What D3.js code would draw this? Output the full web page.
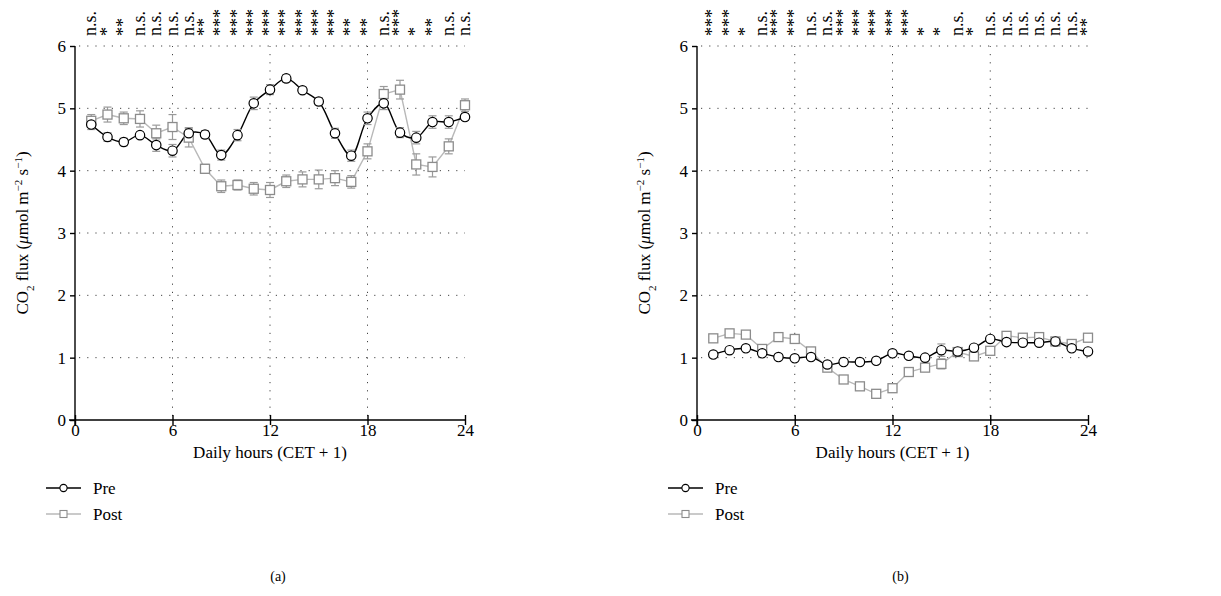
<!DOCTYPE html>
<html lang="en">
<head>
<meta charset="utf-8">
<title>CO2 flux pre / post</title>
<style>
body { margin: 0; background: #fff; }
svg text { font-family: "Liberation Serif", "DejaVu Serif", serif; fill: #000; }
.grid line { stroke: #444; stroke-width: 1; stroke-dasharray: 1.2 7; }
.axis path, .axis line { stroke: #000; stroke-width: 1.4; }
</style>
<script src="https://d3js.org/d3.v7.min.js"></script>
</head>
<body>
<div id="chart"></div>
<script>
// data
const hours = d3.range(1, 25);
const xTicks = [0, 6, 12, 18, 24];
const yTicks = [0, 1, 2, 3, 4, 5, 6];

const preA  = [4.74, 4.54, 4.46, 4.57, 4.41, 4.32, 4.60, 4.58, 4.25, 4.57, 5.08, 5.30, 5.48, 5.29, 5.11, 4.60, 4.24, 4.84, 5.08, 4.61, 4.53, 4.78, 4.78, 4.86];
const preAErr = [0.08, 0.07, 0.06, 0.05, 0.10, 0.10, 0.09, 0.06, 0.08, 0.09, 0.10, 0.08, 0.06, 0.05, 0.06, 0.08, 0.09, 0.10, 0.10, 0.08, 0.10, 0.10, 0.10, 0.05];
const postA = [4.80, 4.90, 4.84, 4.83, 4.60, 4.70, 4.53, 4.03, 3.75, 3.77, 3.71, 3.69, 3.83, 3.86, 3.86, 3.88, 3.82, 4.31, 5.23, 5.30, 4.10, 4.06, 4.39, 5.05];
const postAErr = [0.10, 0.12, 0.10, 0.13, 0.13, 0.20, 0.15, 0.07, 0.10, 0.08, 0.10, 0.12, 0.10, 0.12, 0.15, 0.12, 0.10, 0.12, 0.12, 0.15, 0.17, 0.16, 0.12, 0.10];
const sigA = ["n.s.", "*", "**", "n.s.", "n.s.", "n.s.", "n.s.", "**", "***", "***", "***", "***", "***", "***", "***", "***", "**", "**", "n.s.", "***", "*", "**", "n.s.", "n.s."];

const preB  = [1.05, 1.12, 1.15, 1.07, 1.01, 0.99, 1.01, 0.89, 0.93, 0.93, 0.95, 1.07, 1.03, 1.00, 1.12, 1.10, 1.16, 1.30, 1.25, 1.24, 1.24, 1.26, 1.15, 1.10];
const preBErr = [0.03, 0.03, 0.03, 0.03, 0.03, 0.03, 0.03, 0.03, 0.03, 0.03, 0.03, 0.04, 0.03, 0.03, 0.10, 0.05, 0.04, 0.04, 0.05, 0.04, 0.04, 0.04, 0.04, 0.04];
const postB = [1.31, 1.39, 1.37, 1.14, 1.33, 1.30, 1.10, 0.84, 0.65, 0.54, 0.42, 0.51, 0.77, 0.84, 0.90, 1.09, 1.02, 1.11, 1.35, 1.32, 1.33, 1.26, 1.22, 1.32];
const postBErr = [0.05, 0.06, 0.05, 0.05, 0.05, 0.05, 0.05, 0.04, 0.03, 0.03, 0.03, 0.05, 0.04, 0.04, 0.08, 0.06, 0.04, 0.05, 0.06, 0.05, 0.05, 0.04, 0.05, 0.05];
const sigB = ["***", "***", "*", "n.s.", "***", "***", "n.s.", "n.s.", "***", "***", "***", "***", "***", "*", "*", "n.s.", "*", "n.s.", "n.s.", "n.s.", "n.s.", "n.s.", "n.s.", "**"];

const width = 1221, height = 596;
const FONT = '"Liberation Serif", "DejaVu Serif", serif';
const svg = d3.select("#chart").append("svg")
    .attr("width", width)
    .attr("height", height);

const preColor = "#000", postLine = "#b8b8b8", postMark = "#8c8c8c", errColor = "#9a9a9a";

function txt(sel, size) {
    return sel.style("font-family", FONT).style("font-size", size + "px").style("fill", "#000");
}

function drawPanel(left, right, pre, preErr, post, postErr, sig, caption) {
    const x = d3.scaleLinear().domain([0, 24]).range([left, right]);
    const y = d3.scaleLinear().domain([0, 6]).range([420, 46]);
    const g = svg.append("g");

    // dotted grid
    const grid = g.append("g").attr("class", "grid");
    grid.selectAll(".h").data(yTicks.slice(1)).enter().append("line")
        .attr("x1", x(0) + 4).attr("x2", x(24))
        .attr("y1", d => y(d)).attr("y2", d => y(d));
    grid.selectAll(".v").data([6, 12, 18]).enter().append("line")
        .attr("x1", d => x(d)).attr("x2", d => x(d))
        .attr("y1", y(0) - 4).attr("y2", y(6));

    // axes
    const yAxis = g.append("g").attr("class", "axis")
        .attr("transform", "translate(" + x(0) + ",0)")
        .call(d3.axisLeft(y).tickValues(yTicks).tickFormat(d3.format("d")).tickSize(5).tickSizeOuter(0));
    txt(yAxis.selectAll("text"), 17).attr("x", -9);
    yAxis.select(".domain").attr("d", "M0," + (y(0) + 6) + "V" + y(6));

    const xAxis = g.append("g").attr("class", "axis")
        .attr("transform", "translate(0," + y(0) + ")")
        .call(d3.axisBottom(x).tickValues(xTicks).tickFormat(d3.format("d")).tickSize(5).tickSizeOuter(0));
    xAxis.selectAll(".tick line").attr("y1", -5);
    txt(xAxis.selectAll("text"), 17).attr("y", 16).attr("dy", null);
    xAxis.select(".domain").attr("d", "M" + (x(0) - 6) + ",0H" + x(24));

    // axis titles
    txt(g.append("text"), 17)
        .attr("x", (x(0) + x(24)) / 2).attr("y", 458)
        .attr("text-anchor", "middle")
        .text("Daily hours (CET + 1)");

    const yt = txt(g.append("text"), 17)
        .attr("transform", "translate(" + (x(0) - 47) + "," + y(3) + ") rotate(-90)")
        .attr("text-anchor", "middle");
    yt.append("tspan").text("CO");
    yt.append("tspan").attr("baseline-shift", "sub").style("font-size", "11px").text("2");
    yt.append("tspan").text(" flux (");
    yt.append("tspan").style("font-style", "italic").text("\u03bc");
    yt.append("tspan").text("mol m");
    yt.append("tspan").attr("baseline-shift", "super").style("font-size", "11px").text("\u22122");
    yt.append("tspan").text(" s");
    yt.append("tspan").attr("baseline-shift", "super").style("font-size", "11px").text("\u22121");
    yt.append("tspan").text(")");

    // significance labels
    txt(g.selectAll(".sig").data(sig).enter().append("text"), 18)
        .attr("transform", (d, i) => "translate(" + (x(hours[i]) + 5) + ",36) rotate(-90)")
        .text(d => d);

    const postPts = hours.map((h, i) => ({ h: h, v: post[i], e: postErr[i] }));
    const prePts = hours.map((h, i) => ({ h: h, v: pre[i], e: preErr[i] }));

    g.append("path").datum(postPts)
        .attr("fill", "none").attr("stroke", postLine).attr("stroke-width", 1.4)
        .attr("d", d3.line().x(d => x(d.h)).y(d => y(d.v)));

    g.append("path").datum(prePts)
        .attr("fill", "none").attr("stroke", preColor).attr("stroke-width", 1.4)
        .attr("d", d3.line().curve(d3.curveCatmullRom).x(d => x(d.h)).y(d => y(d.v)));

    function errBars(pts) {
        const eb = g.append("g").attr("stroke", errColor).attr("stroke-width", 1.2);
        eb.selectAll(".e").data(pts).enter().append("line")
            .attr("x1", d => x(d.h)).attr("x2", d => x(d.h))
            .attr("y1", d => y(d.v - d.e)).attr("y2", d => y(d.v + d.e));
        eb.selectAll(".t").data(pts).enter().append("line")
            .attr("x1", d => x(d.h) - 4).attr("x2", d => x(d.h) + 4)
            .attr("y1", d => y(d.v + d.e)).attr("y2", d => y(d.v + d.e));
        eb.selectAll(".b").data(pts).enter().append("line")
            .attr("x1", d => x(d.h) - 4).attr("x2", d => x(d.h) + 4)
            .attr("y1", d => y(d.v - d.e)).attr("y2", d => y(d.v - d.e));
    }
    errBars(postPts);
    errBars(prePts);

    g.selectAll(".sq").data(postPts).enter().append("rect")
        .attr("x", d => x(d.h) - 4.5).attr("y", d => y(d.v) - 4.5)
        .attr("width", 9).attr("height", 9)
        .attr("fill", "#fff").attr("stroke", postMark).attr("stroke-width", 1.3);

    g.selectAll(".ci").data(prePts).enter().append("circle")
        .attr("cx", d => x(d.h)).attr("cy", d => y(d.v)).attr("r", 4.7)
        .attr("fill", "#fff").attr("stroke", preColor).attr("stroke-width", 1.2);

    // legend
    const lx = x(0) - 29;
    const leg = g.append("g");
    leg.append("line").attr("x1", lx).attr("x2", lx + 35).attr("y1", 488).attr("y2", 488)
        .attr("stroke", preColor).attr("stroke-width", 1.3);
    leg.append("circle").attr("cx", lx + 17.5).attr("cy", 488).attr("r", 3.6)
        .attr("fill", "#fff").attr("stroke", preColor).attr("stroke-width", 1.1);
    txt(leg.append("text"), 17).attr("x", lx + 47).attr("y", 494).text("Pre");
    leg.append("line").attr("x1", lx).attr("x2", lx + 35).attr("y1", 514).attr("y2", 514)
        .attr("stroke", postLine).attr("stroke-width", 1.3);
    leg.append("rect").attr("x", lx + 14).attr("y", 510.5).attr("width", 7).attr("height", 7)
        .attr("fill", "#fff").attr("stroke", postMark).attr("stroke-width", 1.1);
    txt(leg.append("text"), 17).attr("x", lx + 47).attr("y", 520).text("Post");

    // caption
    txt(g.append("text"), 14)
        .attr("x", (x(0) + x(24)) / 2 + 8).attr("y", 581)
        .attr("text-anchor", "middle")
        .text(caption);
}

drawPanel(75, 465, preA, preAErr, postA, postAErr, sigA, "(a)");
drawPanel(697, 1088, preB, preBErr, postB, postBErr, sigB, "(b)");
</script>
</body>
</html>
